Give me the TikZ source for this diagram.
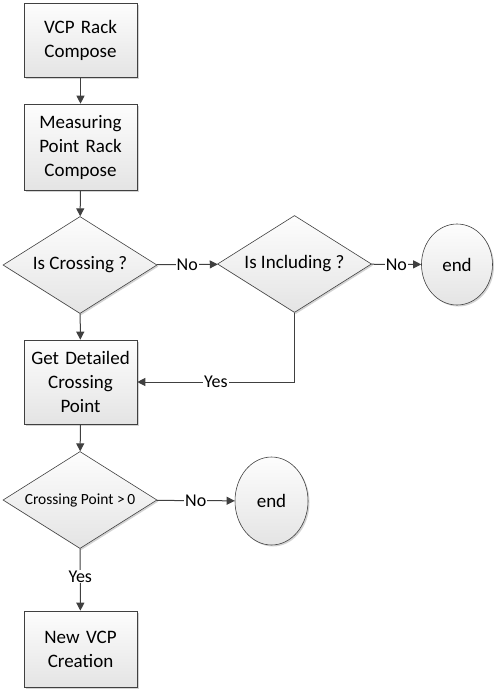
\documentclass[tikz,border=0pt]{standalone}
\usepackage{fontspec}
\setmainfont{Carlito}
\usetikzlibrary{shapes.geometric,arrows.meta,shadows}
\definecolor{lineC}{HTML}{404040}
\definecolor{fillTop}{HTML}{FDFDFD}
\definecolor{fillBot}{HTML}{E4E4E4}
\tikzset{
  shp/.style={draw=lineC, line width=0.6pt, top color=fillTop, bottom color=fillBot,
    drop shadow={shadow xshift=1.5pt, shadow yshift=-1.5pt, opacity=0.35, fill=gray},
    font=\fontsize{19}{24}\selectfont, align=center, inner sep=0pt},
  procbox/.style={shp, rectangle, minimum width=113pt, text width=110pt},
  decis/.style={shp, diamond, aspect=1.6, minimum width=154pt, minimum height=97pt},
  termin/.style={shp, ellipse},
  conn/.style={draw=lineC, line width=1pt, -{Triangle[length=8pt,width=8pt]}},
  plain/.style={draw=lineC, line width=1pt},
  lbl/.style={fill=white, inner sep=1pt, font=\fontsize{18}{20}\selectfont, text=black}
}
\begin{document}
\begin{tikzpicture}[x=1pt,y=-1pt]
\useasboundingbox (0,0) rectangle (500,689);
\node[procbox, minimum height=74pt] (b1) at (80.5,40) {VCP Rack\\Compose};
\node[procbox, minimum height=86pt] (b2) at (80.5,147) {Measuring\\Point Rack\\Compose};
\node[decis] (d1) at (80,265) {Is Crossing ?};
\node[decis] (d2) at (294.5,264) {Is Including ?};
\node[termin, minimum width=71pt, minimum height=81pt] (e1) at (457,264.5) {end};
\node[procbox, minimum height=84pt] (b3) at (80.5,382) {Get Detailed\\Crossing\\Point};
\node[decis, font=\fontsize{15.5}{18}\selectfont] (d3) at (80,500) {Crossing Point >\,0};
\node[termin, minimum width=73pt, minimum height=88pt] (e2) at (271.5,501) {end};
\node[procbox, minimum height=76pt] (b4) at (80.5,649) {New VCP\\Creation};

\draw[conn] (b1) -- (b2);
\draw[conn] (b2) -- (d1);
\draw[conn] (d1) -- node[lbl]{No} (d2);
\draw[conn] (d2) -- node[lbl]{No} (e1);
\draw[conn] (d1) -- (b3);
\coordinate (c1) at (d2.south |- b3.east);
\draw[plain] (d2.south) -- (c1);
\draw[conn] (c1) -- node[lbl, pos=0.5]{Yes} (b3.east);
\draw[conn] (b3) -- (d3);
\draw[conn] (d3) -- node[lbl]{No} (e2);
\draw[conn] (d3) -- node[lbl, pos=0.45]{Yes} (b4);
\end{tikzpicture}
\end{document}
